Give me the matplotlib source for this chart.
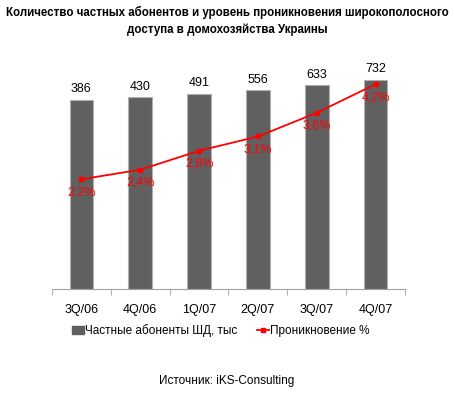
import matplotlib
matplotlib.use("Agg")
import matplotlib.pyplot as plt
from matplotlib.patches import Patch
from matplotlib.lines import Line2D

plt.rcParams['font.family'] = ['Liberation Sans', 'DejaVu Sans']

categories = ["3Q/06", "4Q/06", "1Q/07", "2Q/07", "3Q/07", "4Q/07"]
subscribers = [386, 430, 491, 556, 633, 732]
penetration = [2.2, 2.4, 2.8, 3.1, 3.6, 4.2]
pen_labels = ["2,2%", "2,4%", "2,8%", "3,1%", "3,6%", "4,2%"]

YMIN, YMAX = -2880, 1070

fig = plt.figure(figsize=(4.54, 3.94), dpi=100)
ax = fig.add_axes([52/454, 105/394, 353/454, 229/394])
x = list(range(len(categories)))
ax.bar(x, [v - YMIN for v in subscribers], bottom=YMIN, width=0.4, color='#606060',
       edgecolor='#b0b0b0', linewidth=0.8, zorder=2)
ax.set_xlim(-0.5, len(categories) - 0.5)
ax.set_ylim(YMIN, YMAX)
for xi, v in zip(x, subscribers):
    ax.annotate(str(v), (xi, v), xytext=(0, 3), textcoords='offset points',
                ha='center', va='bottom', fontsize=9, color='black')

ax2 = ax.twinx()
ax2.plot(x, penetration, color='#ff0000', linewidth=1.3, marker='s', markersize=3.5, zorder=3)
ax2.set_ylim(-0.11, 4.71)
for xi, p, lab in zip(x, penetration, pen_labels):
    ax2.annotate(lab, (xi, p), xytext=(0, -5), textcoords='offset points',
                 ha='center', va='top', fontsize=9, color='#ff0000')

for a in (ax, ax2):
    for s in ('left', 'right', 'top'):
        a.spines[s].set_visible(False)
    a.set_yticks([])
ax.spines['bottom'].set_color('#a0a0a0')
ax2.spines['bottom'].set_visible(False)
ax.set_xticks(x)
ax.set_xticklabels(categories, fontsize=9)
ax.tick_params(axis='x', length=0, pad=11)
ax.set_xticks([i - 0.5 for i in range(len(categories) + 1)], minor=True)
ax.tick_params(axis='x', which='minor', length=4, color='#a0a0a0', direction='out')

fig.text(0.5, 1 - 12/394, "Количество частных абонентов и уровень проникновения широкополосного",
         ha='center', va='center', fontsize=8.3, fontweight='bold')
fig.text(0.5, 1 - 30/394, "доступа в домохозяйства Украины",
         ha='center', va='center', fontsize=8.3, fontweight='bold')

handles = [Patch(facecolor='#606060', edgecolor='#606060'),
           Line2D([0], [0], color='#ff0000', marker='s', markersize=3.5, linewidth=1.3)]
fig.legend(handles, ["Частные абоненты ШД, тыс", "Проникновение %"],
           loc='center', bbox_to_anchor=(221/454, 1 - 331/394), ncol=2, frameon=False,
           fontsize=8.5, handlelength=1.0, handletextpad=0.1, columnspacing=1.7,
           handleheight=0.7)

fig.text(0.5, 1 - 381/394, "Источник: iKS-Consulting", ha='center', va='center', fontsize=8.5)

fig.savefig("out.png", dpi=100)
